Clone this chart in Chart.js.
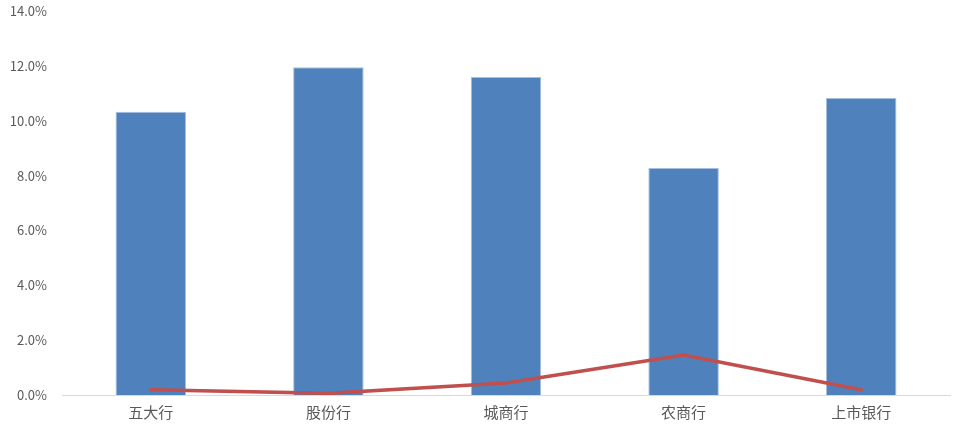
<!DOCTYPE html>
<html lang="zh">
<head>
  <meta charset="UTF-8">
  <title>银行对比</title>
  <script src="https://cdn.jsdelivr.net/npm/chart.js"></script>
  <style>
    body { margin: 0; padding: 0; background: #fff; }
    #wrap { width: 980px; height: 431px; position: relative; }
  </style>
</head>
<body>
  <div id="wrap"><canvas id="chart"></canvas></div>
  <script>
    // categories and values (percent)
    const categories = ['五大行', '股份行', '城商行', '农商行', '上市银行'];
    const barValues = [10.33, 11.95, 11.59, 8.28, 10.83];
    const lineValues = [0.19, 0.06, 0.44, 1.46, 0.19];
    const yMin = 0, yMax = 14, yStep = 2;

    const font = "'Noto Sans CJK SC', 'Microsoft YaHei', sans-serif";

    new Chart(document.getElementById('chart'), {
      data: {
        labels: categories,
        datasets: [
          {
            type: 'line',
            data: lineValues,
            borderColor: '#C0504D',
            borderWidth: 3.5,
            pointRadius: 0,
            tension: 0,
            borderCapStyle: 'round',
            borderJoinStyle: 'round',
            order: 0
          },
          {
            type: 'bar',
            data: barValues,
            backgroundColor: '#4F81BD',
            borderColor: '#A7BFDE',
            borderWidth: { left: 1, right: 1, top: 1, bottom: 0 },
            categoryPercentage: 1,
            barPercentage: 0.397,
            order: 1
          }
        ]
      },
      options: {
        responsive: true,
        maintainAspectRatio: false,
        animation: false,
        layout: { padding: { top: 11, right: 30, left: 0, bottom: 0 } },
        plugins: { legend: { display: false }, tooltip: { enabled: false } },
        scales: {
          x: {
            grid: { display: false, drawTicks: false },
            border: { display: true, color: '#D9D9D9', width: 1 },
            ticks: { color: '#595959', font: { family: font, size: 15 }, padding: 8 },
            afterFit: s => { s.height = 36; s.paddingLeft = 0; s.paddingRight = 0; }
          },
          y: {
            min: yMin, max: yMax,
            grid: { display: false, drawTicks: false },
            border: { display: false },
            ticks: {
              stepSize: yStep,
              color: '#595959',
              font: { family: font, size: 13 },
              padding: 15,
              callback: v => v.toFixed(1) + '%'
            },
            afterFit: s => { s.width = 62; s.paddingTop = 0; s.paddingBottom = 0; }
          }
        }
      }
    });
  </script>
</body>
</html>
